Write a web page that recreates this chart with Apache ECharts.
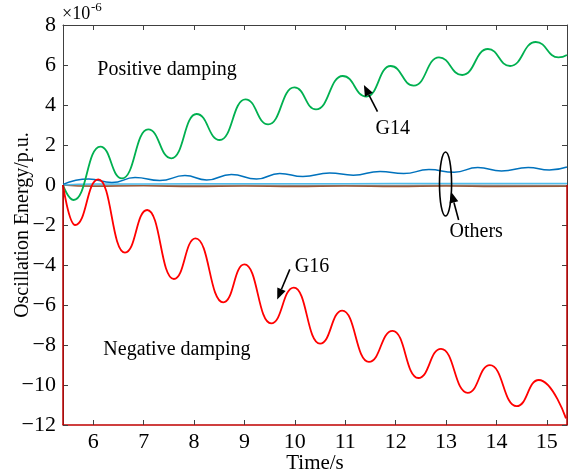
<!DOCTYPE html>
<html><head><meta charset="utf-8">
<script src="https://cdn.jsdelivr.net/npm/echarts@6/dist/echarts.min.js"></script>
<style>html,body{margin:0;padding:0;background:#fff}#c{width:570px;height:474px}</style>
</head><body><div id="c"></div>
<script>
// ---- data (time in s, energy in 1e-6 p.u.) ----
const X_MIN = 5.4, X_MAX = 15.4, Y_MIN = -12, Y_MAX = 8;
const xTicks = [6, 7, 8, 9, 10, 11, 12, 13, 14, 15];
const yTicks = [-12, -10, -8, -6, -4, -2, 0, 2, 4, 6, 8];

const g14 = [[5.4,0],[5.61,-0.75],[6.14,1.92],[6.57,0.33],[7.09,2.78],[7.55,1.33],[8.05,3.55],[8.51,2.25],
  [9.02,4.28],[9.47,3.03],[9.99,4.88],[10.42,3.78],[10.95,5.45],[11.42,4.42],[11.90,5.95],[12.36,4.97],
  [12.86,6.38],[13.32,5.5],[13.83,6.8],[14.27,5.95],[14.78,7.15],[15.23,6.38],[15.4,6.5]];
const g16 = [[5.4,0],[5.64,-2.0],[6.10,0.28],[6.63,-3.38],[7.07,-1.25],[7.60,-4.7],[8.03,-2.67],[8.58,-5.87],
  [9.00,-3.97],[9.53,-6.92],[9.98,-5.13],[10.50,-7.93],[10.94,-6.28],[11.47,-8.84],[11.94,-7.29],[12.45,-9.65],
  [12.90,-8.19],[13.43,-10.39],[13.87,-9.01],[14.40,-11.06],[14.84,-9.75],[15.38,-11.67]];
const gBlue = [[5.4,0.03],[5.91,0.3],[6.37,0.12],[6.83,0.37],[7.32,0.22],[7.82,0.47],[8.25,0.25],[8.74,0.53],
  [9.24,0.3],[9.70,0.58],[10.16,0.42],[10.69,0.6],[11.16,0.49],[11.69,0.68],[12.16,0.57],[12.66,0.77],
  [13.16,0.64],[13.63,0.87],[14.10,0.7],[14.63,0.87],[15.05,0.75],[15.4,0.9]];
const gCyan = [[5.4,0],[6,0.05],[8,0.06],[10,0.06],[12,0.07],[14,0.07],[15.4,0.08]];
const gBrown = [[5.4,0],[6,-0.06],[7,-0.04],[8,-0.08],[9,-0.05],[10,-0.08],[11,-0.05],[12,-0.08],[13,-0.05],[14,-0.08],[15.4,-0.06]];
const gGray = [[5.4,0],[7,-0.02],[9,-0.01],[11,-0.02],[13,-0.01],[15.4,-0.02]];

// annotation anchors (data coords)
const labelPositive = {text:'Positive damping', x:6.08, y:5.75};
const labelNegative = {text:'Negative damping', x:6.2, y:-8.25};
const labelG14 = {text:'G14', x:11.60, y:2.8};
const labelG16 = {text:'G16', x:10.0, y:-4.08};
const labelOthers = {text:'Others', x:13.07, y:-2.35};
const arrowG14 = [[11.64,3.67],[11.37,5.0]];
const arrowG16 = [[9.90,-4.22],[9.65,-5.72]];
const arrowOthers = [[13.25,-1.75],[13.10,-0.34]];
const ellipseOthers = {x:12.99, y:0.05, rx:0.12, ry:1.6};

const FONT = 'Liberation Serif';
const chart = echarts.init(document.getElementById('c'));
const axisGray = '#404040', frameRed = '#C00000';

function lineSeries(data, color, width, z) {
  return {type:'line', data, showSymbol:false, smooth:0.5, smoothMonotone:'x',
    lineStyle:{color, width}, itemStyle:{color}, z: z||2, silent:true};
}
const fmtNum = v => (v < 0 ? '\u2212' + Math.abs(v) : String(v));

const option = {
  animation:false,
  backgroundColor:'#fff',
  grid:{left:63, right:3, top:25, bottom:49, containLabel:false, outerBoundsMode:'none'},
  xAxis:[
    {type:'value', min:X_MIN, max:X_MAX, position:'bottom',
     name:'Time/s', nameLocation:'middle', nameGap:28, nameMoveOverlap:false,
     nameTextStyle:{fontFamily:FONT, fontSize:21, color:'#000', verticalAlign:'top'},
     axisLine:{onZero:false, lineStyle:{color:frameRed, width:1.5}},
     axisTick:{inside:true, length:5, customValues:xTicks, lineStyle:{color:axisGray}},
     axisLabel:{customValues:xTicks, fontFamily:FONT, fontSize:22, color:'#000', margin:6},
     splitLine:{show:false}},
    {type:'value', min:X_MIN, max:X_MAX, position:'top',
     axisLine:{onZero:false, lineStyle:{color:axisGray, width:1}},
     axisTick:{inside:true, length:5, customValues:xTicks, lineStyle:{color:axisGray}},
     axisLabel:{show:false}, splitLine:{show:false}}
  ],
  yAxis:[
    {type:'value', min:Y_MIN, max:Y_MAX, interval:2, position:'left',
     name:'Oscillation Energy/p.u.', nameLocation:'middle', nameGap:30, nameMoveOverlap:false,
     nameTextStyle:{fontFamily:FONT, fontSize:20, color:'#000'},
     axisLine:{onZero:false, lineStyle:{color:axisGray, width:1}},
     axisTick:{inside:true, length:5, lineStyle:{color:axisGray}},
     axisLabel:{fontFamily:FONT, fontSize:22, color:'#000', margin:7, formatter:fmtNum},
     splitLine:{show:false}},
    {type:'value', min:Y_MIN, max:Y_MAX, interval:2, position:'right',
     axisLine:{onZero:false, lineStyle:{color:axisGray, width:1}},
     axisTick:{inside:true, length:5, lineStyle:{color:axisGray}},
     axisLabel:{show:false}, splitLine:{show:false}}
  ],
  series:[
    lineSeries(gGray, '#8c8c8c', 1.2),
    lineSeries(gBrown, '#9a5a3a', 1.5),
    lineSeries(gCyan, '#4DBEEE', 1.5),
    lineSeries(gBlue, '#0072BD', 1.5),
    lineSeries(g14, '#00B050', 1.8),
    lineSeries(g16, '#FF0000', 1.8),
    {type:'line', data:[[X_MIN,0],[X_MIN,Y_MIN]], showSymbol:false, clip:false,
     lineStyle:{color:frameRed, width:1.5}, z:5, silent:true},
    {type:'line', data:[[X_MAX,0],[X_MAX,Y_MIN]], showSymbol:false, clip:false,
     lineStyle:{color:frameRed, width:1.5}, z:5, silent:true}
  ]
};
chart.setOption(option);

function px(x, y) { return chart.convertToPixel({xAxisIndex:0, yAxisIndex:0}, [x, y]); }
function textEl(lbl) {
  const p = px(lbl.x, lbl.y);
  return {type:'text', x:p[0], y:p[1], z:10,
    style:{text:lbl.text, fill:'#000', font:'20px "' + FONT + '"', textAlign:'left', textVerticalAlign:'middle'}};
}
function arrowEls(seg) {
  const a = px(seg[0][0], seg[0][1]), b = px(seg[1][0], seg[1][1]);
  const dx = b[0]-a[0], dy = b[1]-a[1], L = Math.hypot(dx, dy), ux = dx/L, uy = dy/L;
  const hl = 11, hw = 4.5;
  const bx = b[0]-ux*hl, by = b[1]-uy*hl;
  return [
    {type:'line', z:10, shape:{x1:a[0], y1:a[1], x2:bx, y2:by}, style:{stroke:'#000', lineWidth:1.6}},
    {type:'polygon', z:10, shape:{points:[[b[0],b[1]],[bx - uy*hw, by + ux*hw],[bx + uy*hw, by - ux*hw]]}, style:{fill:'#000'}}
  ];
}
const ec = px(ellipseOthers.x, ellipseOthers.y);
const er = px(ellipseOthers.x + ellipseOthers.rx, ellipseOthers.y + ellipseOthers.ry);
const graphics = [
  textEl(labelPositive), textEl(labelNegative), textEl(labelG14), textEl(labelG16), textEl(labelOthers),
  ...arrowEls(arrowG14), ...arrowEls(arrowG16), ...arrowEls(arrowOthers),
  {type:'ellipse', z:10, shape:{cx:ec[0], cy:ec[1], rx:Math.abs(er[0]-ec[0]), ry:Math.abs(ec[1]-er[1])},
   style:{fill:'none', stroke:'#000', lineWidth:1.6}},
  {type:'text', left:62, top:5, z:10, style:{text:'×10', fill:'#000', font:'18px "' + FONT + '"'}},
  {type:'text', left:91, top:1, z:10, style:{text:'-6', fill:'#000', font:'13px "' + FONT + '"'}}
];
chart.setOption({graphic:graphics});
</script>
</body></html>
